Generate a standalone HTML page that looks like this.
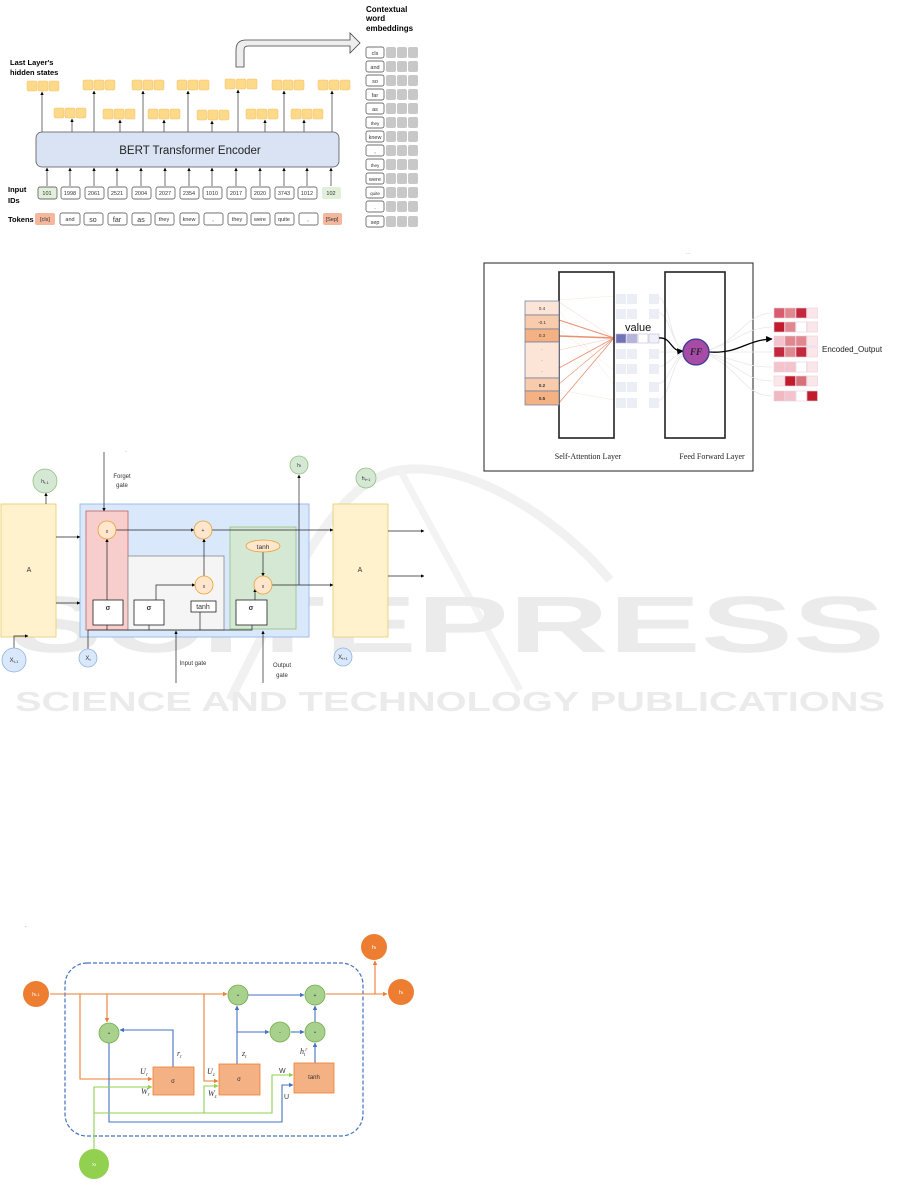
<!DOCTYPE html>
<html><head><meta charset="utf-8"><style>
html,body{margin:0;padding:0;background:#fff;}
svg{display:block;font-family:"Liberation Sans",sans-serif;}
</style></head><body>
<svg width="901" height="1191" viewBox="0 0 901 1191" xmlns="http://www.w3.org/2000/svg">
<defs>
<marker id="a" viewBox="0 0 10 10" refX="9" refY="5" markerWidth="5" markerHeight="5" orient="auto"><path d="M0,0L10,5L0,10z" fill="#000"/></marker>
<marker id="ao" viewBox="0 0 10 10" refX="9" refY="5" markerWidth="4" markerHeight="4" orient="auto"><path d="M0,0L10,5L0,10z" fill="#ed7d31"/></marker>
<marker id="ab" viewBox="0 0 10 10" refX="9" refY="5" markerWidth="4" markerHeight="4" orient="auto"><path d="M0,0L10,5L0,10z" fill="#4472c4"/></marker>
<marker id="ag" viewBox="0 0 10 10" refX="9" refY="5" markerWidth="4" markerHeight="4" orient="auto"><path d="M0,0L10,5L0,10z" fill="#92d050"/></marker>
</defs>

<!-- watermark -->
<g>
<path d="M230,700 C300,560 340,480 400,470 C470,460 560,520 610,580" fill="none" stroke="#f1f1f1" stroke-width="9"/>
<path d="M400,470 L520,690" fill="none" stroke="#f3f3f3" stroke-width="7"/>
<text x="10" y="652" font-size="80" font-weight="bold" fill="#ebebeb" textLength="875" lengthAdjust="spacingAndGlyphs">SCITEPRESS</text>
<text x="15" y="711" font-size="28" font-weight="bold" fill="#ebebeb" textLength="870" lengthAdjust="spacingAndGlyphs">SCIENCE AND TECHNOLOGY PUBLICATIONS</text>
</g>

<!-- ============ BERT ============ -->
<g font-size="6" text-anchor="middle">
<text x="366" y="12" font-size="8" font-weight="bold" text-anchor="start">Contextual</text>
<text x="366" y="21" font-size="8" font-weight="bold" text-anchor="start">word</text>
<text x="366" y="31" font-size="8" font-weight="bold" text-anchor="start">embeddings</text>
<text x="10" y="65" font-size="7.5" font-weight="bold" text-anchor="start">Last Layer's</text>
<text x="10" y="75" font-size="7.5" font-weight="bold" text-anchor="start">hidden states</text>
<path d="M236,67 L236,50 Q236,40 246,40 L350,40 L350,33 L360,43 L350,53 L350,46 L248,46 Q244,46 244,50 L244,67 Z" fill="#eee" stroke="#444" stroke-width="0.8"/>

<g fill="#fdd98a" stroke="#f0c060" stroke-width="0.5">
<rect x="27" y="81" width="10" height="10" rx="1.5"/><rect x="38" y="81" width="10" height="10" rx="1.5"/><rect x="49" y="81" width="10" height="10" rx="1.5"/>
<rect x="83" y="80" width="10" height="10" rx="1.5"/><rect x="94" y="80" width="10" height="10" rx="1.5"/><rect x="105" y="80" width="10" height="10" rx="1.5"/>
<rect x="132" y="80" width="10" height="10" rx="1.5"/><rect x="143" y="80" width="10" height="10" rx="1.5"/><rect x="154" y="80" width="10" height="10" rx="1.5"/>
<rect x="177" y="80" width="10" height="10" rx="1.5"/><rect x="188" y="80" width="10" height="10" rx="1.5"/><rect x="199" y="80" width="10" height="10" rx="1.5"/>
<rect x="225" y="79" width="10" height="10" rx="1.5"/><rect x="236" y="79" width="10" height="10" rx="1.5"/><rect x="247" y="79" width="10" height="10" rx="1.5"/>
<rect x="272" y="80" width="10" height="10" rx="1.5"/><rect x="283" y="80" width="10" height="10" rx="1.5"/><rect x="294" y="80" width="10" height="10" rx="1.5"/>
<rect x="318" y="80" width="10" height="10" rx="1.5"/><rect x="329" y="80" width="10" height="10" rx="1.5"/><rect x="340" y="80" width="10" height="10" rx="1.5"/>
<rect x="54" y="108" width="10" height="10" rx="1.5"/><rect x="65" y="108" width="10" height="10" rx="1.5"/><rect x="76" y="108" width="10" height="10" rx="1.5"/>
<rect x="103" y="109" width="10" height="10" rx="1.5"/><rect x="114" y="109" width="10" height="10" rx="1.5"/><rect x="125" y="109" width="10" height="10" rx="1.5"/>
<rect x="148" y="109" width="10" height="10" rx="1.5"/><rect x="159" y="109" width="10" height="10" rx="1.5"/><rect x="170" y="109" width="10" height="10" rx="1.5"/>
<rect x="197" y="110" width="10" height="10" rx="1.5"/><rect x="208" y="110" width="10" height="10" rx="1.5"/><rect x="219" y="110" width="10" height="10" rx="1.5"/>
<rect x="246" y="109" width="10" height="10" rx="1.5"/><rect x="257" y="109" width="10" height="10" rx="1.5"/><rect x="268" y="109" width="10" height="10" rx="1.5"/>
<rect x="291" y="109" width="10" height="10" rx="1.5"/><rect x="302" y="109" width="10" height="10" rx="1.5"/><rect x="313" y="109" width="10" height="10" rx="1.5"/>
</g>
<g stroke="#333" stroke-width="0.7" marker-end="url(#a)">
<line x1="42" y1="132" x2="42" y2="92"/><line x1="94" y1="132" x2="94" y2="91"/><line x1="143" y1="132" x2="143" y2="91"/><line x1="188" y1="132" x2="188" y2="91"/><line x1="238" y1="132" x2="238" y2="90"/><line x1="284" y1="132" x2="284" y2="91"/><line x1="332" y1="132" x2="332" y2="91"/>
<line x1="72" y1="132" x2="72" y2="119"/><line x1="120" y1="132" x2="120" y2="120"/><line x1="164" y1="132" x2="164" y2="120"/><line x1="212" y1="132" x2="212" y2="121"/><line x1="265" y1="132" x2="265" y2="120"/><line x1="304" y1="132" x2="304" y2="120"/>
</g>
<rect x="36" y="132" width="303" height="35" rx="6" fill="#dae3f3" stroke="#555" stroke-width="0.8"/>
<text x="190" y="154" font-size="11.5" fill="#222">BERT Transformer Encoder</text>

<g stroke="#333" stroke-width="0.7" marker-end="url(#a)">
<line x1="47" y1="186" x2="47" y2="168"/><line x1="70" y1="186" x2="70" y2="168"/><line x1="94" y1="186" x2="94" y2="168"/><line x1="117" y1="186" x2="117" y2="168"/><line x1="141" y1="186" x2="141" y2="168"/><line x1="165" y1="186" x2="165" y2="168"/><line x1="189" y1="186" x2="189" y2="168"/><line x1="212" y1="186" x2="212" y2="168"/><line x1="236" y1="186" x2="236" y2="168"/><line x1="260" y1="186" x2="260" y2="168"/><line x1="284" y1="186" x2="284" y2="168"/><line x1="307" y1="186" x2="307" y2="168"/><line x1="331" y1="186" x2="331" y2="168"/>
</g>
<text x="8" y="192" font-size="7.5" font-weight="bold" text-anchor="start">Input</text>
<text x="8" y="203" font-size="7.5" font-weight="bold" text-anchor="start">IDs</text>
<text x="8" y="222" font-size="7.5" font-weight="bold" text-anchor="start">Tokens</text>
<g stroke="#444" stroke-width="0.7" fill="#fff">
<rect x="38" y="187" width="19" height="12" rx="2" fill="#e2efda"/><rect x="61" y="187" width="19" height="12" rx="2"/><rect x="85" y="187" width="19" height="12" rx="2"/><rect x="108" y="187" width="19" height="12" rx="2"/><rect x="132" y="187" width="19" height="12" rx="2"/><rect x="156" y="187" width="19" height="12" rx="2"/><rect x="180" y="187" width="19" height="12" rx="2"/><rect x="203" y="187" width="19" height="12" rx="2"/><rect x="227" y="187" width="19" height="12" rx="2"/><rect x="251" y="187" width="19" height="12" rx="2"/><rect x="275" y="187" width="19" height="12" rx="2"/><rect x="298" y="187" width="19" height="12" rx="2"/><rect x="322" y="187" width="19" height="12" rx="2" fill="#e2efda" stroke="none"/>
<rect x="35" y="213" width="20" height="12" rx="2" fill="#f4b69c" stroke="none"/><rect x="60" y="213" width="20" height="12" rx="2"/><rect x="84" y="213" width="19" height="12" rx="2"/><rect x="108" y="213" width="19" height="12" rx="2"/><rect x="132" y="213" width="19" height="12" rx="2"/><rect x="155" y="213" width="19" height="12" rx="2"/><rect x="180" y="213" width="19" height="12" rx="2"/><rect x="204" y="213" width="19" height="12" rx="2"/><rect x="228" y="213" width="19" height="12" rx="2"/><rect x="251" y="213" width="19" height="12" rx="2"/><rect x="275" y="213" width="19" height="12" rx="2"/><rect x="299" y="213" width="19" height="12" rx="2"/><rect x="323" y="213" width="19" height="12" rx="2" fill="#f4b69c" stroke="none"/>
</g>
<g font-size="5.5" fill="#333">
<text x="47" y="195">101</text><text x="70" y="195">1998</text><text x="94" y="195">2061</text><text x="117" y="195">2521</text><text x="141" y="195">2004</text><text x="165" y="195">2027</text><text x="189" y="195">2354</text><text x="212" y="195">1010</text><text x="236" y="195">2017</text><text x="260" y="195">2020</text><text x="284" y="195">3743</text><text x="307" y="195">1012</text><text x="331" y="195">102</text>
<text x="45" y="221">[cls]</text><text x="70" y="221">and</text><text x="93" y="222" font-size="7">so</text><text x="117" y="222" font-size="7">far</text><text x="141" y="222" font-size="7">as</text><text x="164" y="221">they</text><text x="189" y="221">knew</text><text x="213" y="221">,</text><text x="237" y="221">they</text><text x="260" y="221">were</text><text x="284" y="221">quite</text><text x="308" y="221">,</text><text x="332" y="221">[Sep]</text>
</g>
<g stroke="#444" stroke-width="0.7" fill="#fff">
<rect x="366" y="47" width="18" height="11" rx="2"/><rect x="366" y="61" width="18" height="11" rx="2"/><rect x="366" y="75" width="18" height="11" rx="2"/><rect x="366" y="89" width="18" height="11" rx="2"/><rect x="366" y="103" width="18" height="11" rx="2"/><rect x="366" y="117" width="18" height="11" rx="2"/><rect x="366" y="131" width="18" height="11" rx="2"/><rect x="366" y="145" width="18" height="11" rx="2"/><rect x="366" y="159" width="18" height="11" rx="2"/><rect x="366" y="173" width="18" height="11" rx="2"/><rect x="366" y="187" width="18" height="11" rx="2"/><rect x="366" y="201" width="18" height="11" rx="2"/><rect x="366" y="216" width="18" height="11" rx="2"/>
</g>
<g fill="#c8c8c8">
<rect x="386" y="47" width="10" height="11" rx="2"/><rect x="397" y="47" width="10" height="11" rx="2"/><rect x="408" y="47" width="10" height="11" rx="2"/>
<rect x="386" y="61" width="10" height="11" rx="2"/><rect x="397" y="61" width="10" height="11" rx="2"/><rect x="408" y="61" width="10" height="11" rx="2"/>
<rect x="386" y="75" width="10" height="11" rx="2"/><rect x="397" y="75" width="10" height="11" rx="2"/><rect x="408" y="75" width="10" height="11" rx="2"/>
<rect x="386" y="89" width="10" height="11" rx="2"/><rect x="397" y="89" width="10" height="11" rx="2"/><rect x="408" y="89" width="10" height="11" rx="2"/>
<rect x="386" y="103" width="10" height="11" rx="2"/><rect x="397" y="103" width="10" height="11" rx="2"/><rect x="408" y="103" width="10" height="11" rx="2"/>
<rect x="386" y="117" width="10" height="11" rx="2"/><rect x="397" y="117" width="10" height="11" rx="2"/><rect x="408" y="117" width="10" height="11" rx="2"/>
<rect x="386" y="131" width="10" height="11" rx="2"/><rect x="397" y="131" width="10" height="11" rx="2"/><rect x="408" y="131" width="10" height="11" rx="2"/>
<rect x="386" y="145" width="10" height="11" rx="2"/><rect x="397" y="145" width="10" height="11" rx="2"/><rect x="408" y="145" width="10" height="11" rx="2"/>
<rect x="386" y="159" width="10" height="11" rx="2"/><rect x="397" y="159" width="10" height="11" rx="2"/><rect x="408" y="159" width="10" height="11" rx="2"/>
<rect x="386" y="173" width="10" height="11" rx="2"/><rect x="397" y="173" width="10" height="11" rx="2"/><rect x="408" y="173" width="10" height="11" rx="2"/>
<rect x="386" y="187" width="10" height="11" rx="2"/><rect x="397" y="187" width="10" height="11" rx="2"/><rect x="408" y="187" width="10" height="11" rx="2"/>
<rect x="386" y="201" width="10" height="11" rx="2"/><rect x="397" y="201" width="10" height="11" rx="2"/><rect x="408" y="201" width="10" height="11" rx="2"/>
<rect x="386" y="216" width="10" height="11" rx="2"/><rect x="397" y="216" width="10" height="11" rx="2"/><rect x="408" y="216" width="10" height="11" rx="2"/>
</g>
<g font-size="5.5" fill="#333">
<text x="375" y="55">cls</text><text x="375" y="69">and</text><text x="375" y="83">so</text><text x="375" y="97">far</text><text x="375" y="111">as</text><text x="375" y="125" font-size="4.5">they</text><text x="375" y="139">knew</text><text x="375" y="153">,</text><text x="375" y="167" font-size="4.5">they</text><text x="375" y="181">were</text><text x="375" y="195" font-size="4.5">quite</text><text x="375" y="209">.</text><text x="375" y="224">sep</text>
</g>
</g>

<!-- ============ ATTENTION ============ -->
<rect x="484" y="263" width="269" height="208" fill="none" stroke="#222" stroke-width="1"/>
<text x="686" y="254" font-size="4" fill="#555">- -</text>
<g stroke="#e89070" fill="none">
<line x1="559" y1="302" x2="614" y2="338" stroke-width="0.4" opacity=".5"/><line x1="559" y1="320" x2="614" y2="338" stroke-width="1"/><line x1="559" y1="336" x2="614" y2="338" stroke-width="1.4"/><line x1="559" y1="350" x2="614" y2="338" stroke-width="0.5" opacity=".5"/><line x1="559" y1="368" x2="614" y2="338" stroke-width="0.8"/><line x1="559" y1="384" x2="614" y2="338" stroke-width="0.6"/><line x1="559" y1="403" x2="614" y2="338" stroke-width="0.8"/>
<line x1="559" y1="300" x2="614" y2="296" stroke-width="0.4" opacity=".3"/><line x1="559" y1="330" x2="614" y2="370" stroke-width="0.4" opacity=".3"/><line x1="559" y1="390" x2="614" y2="400" stroke-width="0.4" opacity=".3"/><line x1="559" y1="310" x2="614" y2="385" stroke-width="0.4" opacity=".3"/>
</g>
<g stroke="#e8e8e8" fill="none" stroke-width="0.8">
<path d="M658,297 C670,300 670,345 683,350"/><path d="M658,312 C670,315 672,345 683,350"/><path d="M658,352 C670,352 675,352 683,352"/><path d="M658,367 C670,365 672,355 683,354"/><path d="M658,384 C670,382 672,358 683,355"/><path d="M658,401 C670,398 672,360 683,356"/>
<path d="M709,350 C740,340 745,314 772,313"/><path d="M709,350 C740,340 745,328 772,327"/><path d="M709,352 C740,352 745,352 772,352"/><path d="M709,354 C740,360 745,367 772,367"/><path d="M709,354 C740,365 745,381 772,381"/><path d="M709,355 C740,370 745,396 772,396"/>
</g>
<rect x="559" y="272" width="55" height="166" fill="none" stroke="#222" stroke-width="1.6"/>
<rect x="665" y="272" width="60" height="166" fill="none" stroke="#222" stroke-width="1.6"/>
<g stroke="#6a7a9a" stroke-width="0.7">
<rect x="525" y="301" width="34" height="14" fill="#fce4d6"/><rect x="525" y="315" width="34" height="14" fill="#f8cbad"/><rect x="525" y="329" width="34" height="13" fill="#f4b183"/><rect x="525" y="342" width="34" height="36" fill="#fce4d6"/><rect x="525" y="378" width="34" height="13" fill="#f8cbad"/><rect x="525" y="391" width="34" height="14" fill="#f4b183"/>
</g>
<g font-size="4.5" text-anchor="middle" fill="#333">
<text x="542" y="310">0.4</text><text x="542" y="324">-0.1</text><text x="542" y="337">0.3</text><text x="542" y="350">.</text><text x="542" y="361">.</text><text x="542" y="372">.</text><text x="542" y="387" font-weight="bold">0.2</text><text x="542" y="400" font-weight="bold">0.5</text>
</g>
<g fill="#eceef6">
<rect x="616" y="294" width="10" height="10"/><rect x="627" y="294" width="10" height="10"/><rect x="649" y="294" width="10" height="10"/>
<rect x="616" y="309" width="10" height="10"/><rect x="627" y="309" width="10" height="10"/><rect x="649" y="309" width="10" height="10"/>
<rect x="616" y="349" width="10" height="10"/><rect x="627" y="349" width="10" height="10"/><rect x="649" y="349" width="10" height="10"/>
<rect x="616" y="364" width="10" height="10"/><rect x="627" y="364" width="10" height="10"/><rect x="649" y="364" width="10" height="10"/>
<rect x="616" y="382" width="10" height="10"/><rect x="627" y="382" width="10" height="10"/><rect x="649" y="382" width="10" height="10"/>
<rect x="616" y="398" width="10" height="10"/><rect x="627" y="398" width="10" height="10"/><rect x="649" y="398" width="10" height="10"/>
</g>
<g stroke="#c8b8d8" stroke-width="0.6"><rect x="616" y="334" width="10" height="9" fill="#7272b8"/><rect x="627" y="334" width="10" height="9" fill="#b4b4dc"/><rect x="638" y="334" width="10" height="9" fill="#fff"/><rect x="649" y="334" width="10" height="9" fill="#f0f0fa"/></g>
<text x="625" y="331" font-size="11" fill="#111">value</text>
<path d="M659,338 C672,337 670,352 683,351" fill="none" stroke="#000" stroke-width="1.3" marker-end="url(#a)"/>
<path d="M709,352 C740,354 745,340 772,339" fill="none" stroke="#000" stroke-width="1.3" marker-end="url(#a)"/>
<circle cx="696" cy="352" r="13" fill="#a64ca6" stroke="#3b3b8f" stroke-width="1.3"/>
<text x="696" y="355" font-size="9" font-family="Liberation Serif,serif" font-style="italic" font-weight="bold" text-anchor="middle" fill="#222">FF</text>
<g stroke="#e8d0dc" stroke-width="0.6">
<rect x="774" y="308" width="10.5" height="10" fill="#d85c6c"/><rect x="785" y="308" width="10.5" height="10" fill="#e0888e"/><rect x="796" y="308" width="10.5" height="10" fill="#c4283c"/><rect x="807" y="308" width="10.5" height="10" fill="#fbe6ea"/>
<rect x="774" y="322" width="10.5" height="10" fill="#c01c2c"/><rect x="785" y="322" width="10.5" height="10" fill="#e0888e"/><rect x="796" y="322" width="10.5" height="10" fill="#fff"/><rect x="807" y="322" width="10.5" height="10" fill="#fbe6ea"/>
<rect x="774" y="336" width="10.5" height="10" fill="#f4c4cc"/><rect x="785" y="336" width="10.5" height="10" fill="#e0888e"/><rect x="796" y="336" width="10.5" height="10" fill="#e0888e"/><rect x="807" y="336" width="10.5" height="10" fill="#fbe6ea"/>
<rect x="774" y="347" width="10.5" height="10" fill="#c4283c"/><rect x="785" y="347" width="10.5" height="10" fill="#e0888e"/><rect x="796" y="347" width="10.5" height="10" fill="#c4283c"/><rect x="807" y="347" width="10.5" height="10" fill="#fbe6ea"/>
<rect x="774" y="362" width="10.5" height="10" fill="#f4c4cc"/><rect x="785" y="362" width="10.5" height="10" fill="#f4c4cc"/><rect x="796" y="362" width="10.5" height="10" fill="#fff"/><rect x="807" y="362" width="10.5" height="10" fill="#fbe6ea"/>
<rect x="774" y="376" width="10.5" height="10" fill="#fbe6ea"/><rect x="785" y="376" width="10.5" height="10" fill="#c01c2c"/><rect x="796" y="376" width="10.5" height="10" fill="#d8707a"/><rect x="807" y="376" width="10.5" height="10" fill="#fbe6ea"/>
<rect x="774" y="391" width="10.5" height="10" fill="#f0b8c0"/><rect x="785" y="391" width="10.5" height="10" fill="#f4c4cc"/><rect x="796" y="391" width="10.5" height="10" fill="#fff"/><rect x="807" y="391" width="10.5" height="10" fill="#c01c2c"/>
</g>
<text x="822" y="352" font-size="8" fill="#222">Encoded_Output</text>
<g font-family="Liberation Serif,serif" font-size="8" fill="#222" text-anchor="middle">
<text x="588" y="459">Self-Attention Layer</text><text x="712" y="459">Feed Forward Layer</text>
</g>

<!-- ============ LSTM ============ -->
<g font-size="7" fill="#333" text-anchor="middle">
<text x="126" y="452" font-size="4">-</text>
<rect x="1" y="504" width="55" height="133" fill="#fff2cc" stroke="#e8c870" stroke-width="0.8"/>
<text x="29" y="572">A</text>
<rect x="333" y="504" width="55" height="133" fill="#fff2cc" stroke="#e8c870" stroke-width="0.8"/>
<text x="360" y="572">A</text>
<rect x="80" y="504" width="229" height="133" fill="#dae8fc" stroke="#90b0e0" stroke-width="0.8"/>
<rect x="86" y="511" width="42" height="119" fill="#f8cecc" stroke="#c06060" stroke-width="0.8"/>
<rect x="128" y="556" width="96" height="74" fill="#f5f5f5" stroke="#888" stroke-width="0.8"/>
<rect x="230" y="527" width="66" height="102" fill="#d5e8d4" stroke="#90c080" stroke-width="0.8"/>

<g stroke="#222" stroke-width="0.7" fill="none" marker-end="url(#a)">
<line x1="104" y1="452" x2="104" y2="511"/>
<line x1="56" y1="537" x2="80" y2="537"/><line x1="56" y1="603" x2="80" y2="603"/>
<line x1="116" y1="530" x2="194" y2="530"/>
<line x1="212" y1="530" x2="333" y2="530"/>
<line x1="204" y1="576" x2="204" y2="539"/>
<polyline points="156,600 156,585 195,585"/>
<line x1="263" y1="552" x2="263" y2="576"/>
<line x1="272" y1="585" x2="333" y2="585"/>
<line x1="299" y1="585" x2="299" y2="475"/>
<line x1="255" y1="600" x2="255" y2="589"/>
<line x1="107" y1="600" x2="107" y2="539"/>
<line x1="46" y1="504" x2="46" y2="493"/>
<line x1="176" y1="683" x2="176" y2="631"/>
<line x1="263" y1="683" x2="263" y2="631"/>
<polyline points="14,648 14,636 28,636"/>
<line x1="388" y1="531" x2="424" y2="531"/><line x1="388" y1="576" x2="424" y2="576"/>
</g>
<g stroke="#222" stroke-width="0.7" fill="none">
<polyline points="88,650 88,630 252,630 252,625"/>
<line x1="107" y1="625" x2="107" y2="630"/><line x1="149" y1="625" x2="149" y2="630"/><line x1="200" y1="612" x2="200" y2="630"/>
</g>
<g stroke="#222" stroke-width="0.8" fill="#fff">
<rect x="93" y="600" width="30" height="25"/><rect x="134" y="600" width="30" height="25"/><rect x="191" y="601" width="25" height="11"/><rect x="236" y="600" width="31" height="25"/>
</g>
<text x="108" y="610" font-weight="bold">σ</text><text x="149" y="610" font-weight="bold">σ</text><text x="203" y="609">tanh</text><text x="251" y="610" font-weight="bold">σ</text>
<g fill="#ffe6cc" stroke="#e8a030" stroke-width="0.8">
<circle cx="107" cy="530" r="9"/><circle cx="203" cy="530" r="9"/><circle cx="204" cy="585" r="9"/><circle cx="263" cy="585" r="9"/>
<ellipse cx="263" cy="546" rx="17" ry="6"/>
</g>
<text x="107" y="533" font-size="5">x</text><text x="203" y="532" font-size="5">+</text><text x="204" y="588" font-size="5">x</text><text x="263" y="588" font-size="5">x</text><text x="263" y="549" font-size="6.5">tanh</text>
<text x="122" y="478" font-size="6">Forget</text><text x="122" y="487" font-size="6">gate</text>
<text x="193" y="665" font-size="6">Input gate</text>
<text x="282" y="667" font-size="6">Output</text><text x="282" y="677" font-size="6">gate</text>
<g fill="#d5e8d4" stroke="#90c080" stroke-width="0.8">
<circle cx="45" cy="481" r="12"/><circle cx="299" cy="465" r="9"/><circle cx="366" cy="478" r="10"/>
</g>
<g fill="#dae8fc" stroke="#90b0e0" stroke-width="0.8">
<circle cx="14" cy="660" r="12"/><circle cx="88" cy="658" r="9"/><circle cx="343" cy="657" r="9"/>
</g>
<text x="45" y="483" font-size="5.5">h<tspan font-size="4" dy="1">t-1</tspan></text>
<text x="299" y="467" font-size="5">h<tspan font-size="3.5">t</tspan></text>
<text x="366" y="480" font-size="5.5">h<tspan font-size="4" dy="1">t+1</tspan></text>
<text x="14" y="662" font-size="6">X<tspan font-size="4" dy="1">t-1</tspan></text>
<text x="88" y="660" font-size="6">X<tspan font-size="4" dy="1">t</tspan></text>
<text x="343" y="659" font-size="6">X<tspan font-size="4" dy="1">t+1</tspan></text>
</g>

<!-- ============ GRU ============ -->
<text x="25" y="927" font-size="4">-</text>
<rect x="65" y="963" width="298" height="173" rx="22" fill="none" stroke="#4472c4" stroke-width="1.2" stroke-dasharray="4,2"/>
<g fill="none" stroke-width="1.1">
<g stroke="#ed7d31">
<line x1="50" y1="994" x2="227" y2="994" marker-end="url(#ao)"/>
<line x1="326" y1="994" x2="387" y2="994" marker-end="url(#ao)"/>
<line x1="375" y1="994" x2="375" y2="961" marker-end="url(#ao)"/>
<polyline points="80,994 80,1079 152,1079" marker-end="url(#ao)"/>
<line x1="107" y1="994" x2="107" y2="1022" marker-end="url(#ao)"/>
<polyline points="204,994 204,1081 218,1081" marker-end="url(#ao)"/>
</g>
<g stroke="#4472c4">
<polyline points="173,1067 173,1030 120,1030" marker-end="url(#ab)"/>
<polyline points="109,1043 109,1122 282,1122 282,1085 293,1085" marker-end="url(#ab)"/>
<line x1="237" y1="1064" x2="237" y2="1006" marker-end="url(#ab)"/>
<polyline points="237,1032 269,1032" marker-end="url(#ab)"/>
<line x1="291" y1="1032" x2="304" y2="1032" marker-end="url(#ab)"/>
<line x1="248" y1="995" x2="304" y2="995" marker-end="url(#ab)"/>
<line x1="315" y1="1063" x2="315" y2="1043" marker-end="url(#ab)"/>
<line x1="315" y1="1022" x2="315" y2="1006" marker-end="url(#ab)"/>
</g>
<g stroke="#92d050">
<polyline points="94,1149 94,1087 152,1087" marker-end="url(#ag)"/>
<polyline points="94,1113 272,1113 272,1075 293,1075" marker-end="url(#ag)"/>
<polyline points="204,1113 204,1086 218,1086" marker-end="url(#ag)"/>
</g>
</g>
<g fill="#f4b183" stroke="#ed7d31" stroke-width="0.8">
<rect x="153" y="1067" width="41" height="28"/><rect x="219" y="1064" width="41" height="31"/><rect x="294" y="1063" width="40" height="30"/>
</g>
<g font-size="6" text-anchor="middle" fill="#333">
<text x="173" y="1083">σ</text><text x="239" y="1081">σ</text><text x="314" y="1079">tanh</text>
</g>
<g fill="#a9d18e" stroke="#70ad47" stroke-width="0.8">
<circle cx="109" cy="1033" r="10"/><circle cx="238" cy="995" r="10"/><circle cx="315" cy="995" r="10"/><circle cx="280" cy="1032" r="10"/><circle cx="315" cy="1032" r="10"/>
</g>
<g font-size="5" text-anchor="middle" fill="#333">
<text x="109" y="1035">•</text><text x="238" y="997">•</text><text x="315" y="997">+</text><text x="280" y="1034">-</text><text x="315" y="1034">•</text>
</g>
<g fill="#ed7d31"><circle cx="36" cy="994" r="13"/><circle cx="374" cy="947" r="13"/><circle cx="401" cy="992" r="13"/></g>
<circle cx="94" cy="1164" r="15" fill="#92d050"/>
<g font-size="5.5" fill="#fff" text-anchor="middle">
<text x="36" y="996">h<tspan font-size="4">t-1</tspan></text><text x="374" y="949">h<tspan font-size="4">t</tspan></text><text x="401" y="994">h<tspan font-size="4">t</tspan></text><text x="94" y="1166">x<tspan font-size="4">t</tspan></text>
</g>
<g font-family="Liberation Serif,serif" font-style="italic" font-size="8" fill="#333">
<text x="177" y="1056">r<tspan font-size="5" dy="2">t</tspan></text>
<text x="242" y="1056">z<tspan font-size="5" dy="2">t</tspan></text>
<text x="300" y="1054">h<tspan font-size="5" dy="2">t</tspan><tspan font-size="5" dy="-5">r</tspan></text>
<text x="140" y="1074">U<tspan font-size="5" dy="2">r</tspan></text>
<text x="141" y="1094">W<tspan font-size="5" dy="2">r</tspan></text>
<text x="207" y="1074">U<tspan font-size="5" dy="2">z</tspan></text>
<text x="208" y="1096">W<tspan font-size="5" dy="2">z</tspan></text>
</g>
<text x="279" y="1073" font-size="7" fill="#333">W</text>
<text x="284" y="1099" font-size="7" fill="#333">U</text>
</svg>
</body></html>
